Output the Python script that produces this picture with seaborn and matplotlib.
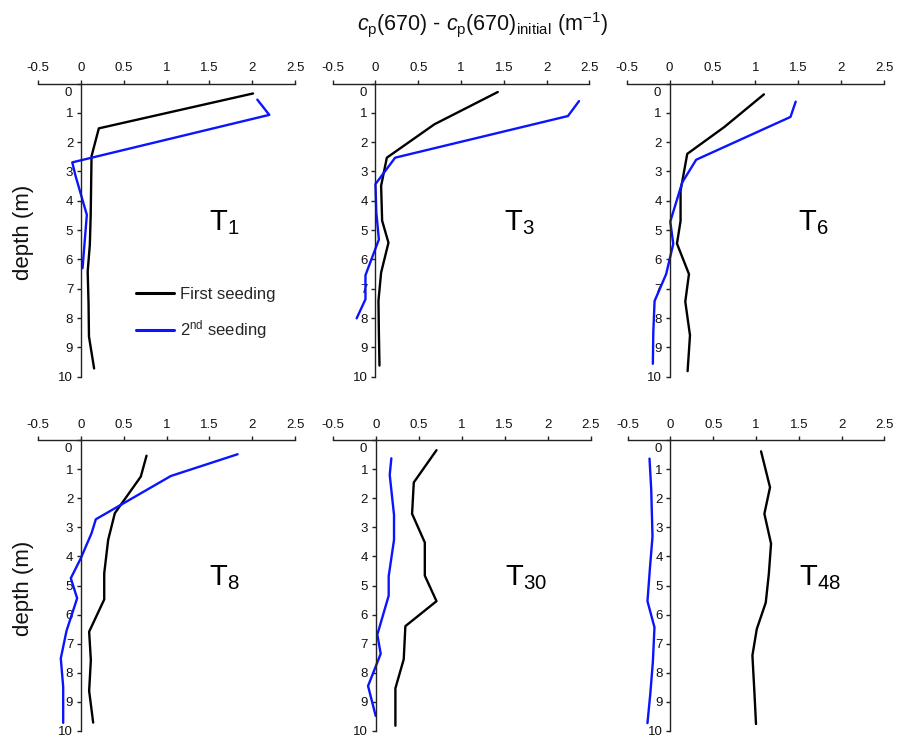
import numpy as np
import pandas as pd
import matplotlib
matplotlib.use("Agg")
import matplotlib.pyplot as plt
import seaborn as sns
from matplotlib.lines import Line2D

# ---------------- data ----------------
panels = ["T1", "T3", "T6", "T8", "T30", "T48"]
subs = ["1", "3", "6", "8", "30", "48"]

t1_first_depth = [0.34, 1.53, 2.48, 3.5, 4.5, 5.5, 6.41, 7.5, 8.63, 9.72]
t1_first_val = [2.01, 0.21, 0.125, 0.12, 0.115, 0.105, 0.08, 0.09, 0.095, 0.155]
t1_second_depth = [0.55, 1.07, 2.69, 3.17, 4.48, 6.3]
t1_second_val = [2.06, 2.2, -0.1, -0.06, 0.07, 0.02]

t3_first_depth = [0.29, 1.39, 2.53, 3.49, 4.68, 5.43, 6.45, 7.41, 8.5, 9.62]
t3_first_val = [1.43, 0.69, 0.133, 0.066, 0.078, 0.152, 0.066, 0.035, 0.04, 0.047]
t3_second_depth = [0.60, 1.11, 2.53, 3.43, 4.4, 5.32, 6.54, 7.36, 8.01]
t3_second_val = [2.38, 2.25, 0.23, 0.0, 0.01, 0.04, -0.117, -0.117, -0.22]

t6_first_depth = [0.37, 1.48, 2.40, 3.66, 4.69, 5.46, 6.50, 7.44, 8.59, 9.81]
t6_first_val = [1.10, 0.64, 0.206, 0.128, 0.128, 0.086, 0.226, 0.183, 0.238, 0.21]
t6_second_depth = [0.62, 1.14, 2.60, 3.37, 4.71, 5.47, 6.50, 7.42, 8.5, 9.56]
t6_second_val = [1.47, 1.41, 0.31, 0.148, 0.008, 0.043, -0.04, -0.175, -0.19, -0.195]

t8_first_depth = [0.53, 1.25, 2.51, 3.43, 4.58, 5.48, 6.59, 7.57, 8.63, 9.72]
t8_first_val = [0.767, 0.70, 0.397, 0.319, 0.273, 0.273, 0.097, 0.117, 0.097, 0.144]
t8_second_depth = [0.48, 1.23, 2.72, 3.20, 4.06, 4.75, 5.44, 6.56, 7.51, 8.49, 9.73]
t8_second_val = [1.83, 1.05, 0.175, 0.125, 0.0, -0.117, -0.043, -0.167, -0.234, -0.206, -0.206]

t30_first_depth = [0.34, 1.45, 2.53, 3.52, 4.66, 5.54, 6.40, 7.54, 8.54, 9.83]
t30_first_val = [0.707, 0.443, 0.423, 0.571, 0.571, 0.707, 0.345, 0.326, 0.229, 0.229]
t30_second_depth = [0.62, 1.19, 2.57, 3.43, 4.68, 5.35, 6.69, 7.35, 8.46, 9.49]
t30_second_val = [0.182, 0.163, 0.213, 0.213, 0.151, 0.151, 0.019, 0.058, -0.089, 0.0]

t48_first_depth = [0.38, 1.62, 2.53, 3.56, 4.6, 5.59, 6.50, 7.41, 8.6, 9.77]
t48_first_val = [1.059, 1.164, 1.098, 1.176, 1.15, 1.114, 1.009, 0.958, 0.98, 1.0]
t48_second_depth = [0.63, 1.7, 3.31, 4.4, 5.54, 6.44, 7.64, 8.7, 9.74]
t48_second_val = [-0.245, -0.225, -0.21, -0.24, -0.269, -0.187, -0.206, -0.235, -0.269]

x_ticks = [-0.5, 0, 0.5, 1, 1.5, 2, 2.5]
x_tick_labels = ["-0.5", "0", "0.5", "1", "1.5", "2", "2.5"]
y_ticks = list(range(0, 11))

series_first = "First seeding"
series_second = "2nd seeding"

raw = {
    "T1": (t1_first_depth, t1_first_val, t1_second_depth, t1_second_val),
    "T3": (t3_first_depth, t3_first_val, t3_second_depth, t3_second_val),
    "T6": (t6_first_depth, t6_first_val, t6_second_depth, t6_second_val),
    "T8": (t8_first_depth, t8_first_val, t8_second_depth, t8_second_val),
    "T30": (t30_first_depth, t30_first_val, t30_second_depth, t30_second_val),
    "T48": (t48_first_depth, t48_first_val, t48_second_depth, t48_second_val),
}

rows = []
for p in panels:
    fd, fv, sd, sv = raw[p]
    for d, v in zip(fd, fv):
        rows.append((p, series_first, d, v))
    for d, v in zip(sd, sv):
        rows.append((p, series_second, d, v))
df = pd.DataFrame(rows, columns=["panel", "seeding", "depth", "cp"])

# ---------------- style ----------------
sns.set_style("ticks")
plt.rcParams["font.family"] = ["Liberation Sans", "DejaVu Sans"]
plt.rcParams["mathtext.fontset"] = "custom"
plt.rcParams["mathtext.rm"] = "Liberation Sans"
plt.rcParams["mathtext.it"] = "Liberation Sans:italic"
plt.rcParams["mathtext.bf"] = "Liberation Sans:bold"

BLACK = "#000000"
BLUE = "#0a14ff"
palette = {series_first: BLACK, series_second: BLUE}

W, H = 897, 740
fig = plt.figure(figsize=(W / 100, H / 100), dpi=100)

# axes boxes in pixels: (left at x=-0.5, right at x=2.5, top at depth 0, bottom at depth 10)
boxes = [
    (38, 295, 83.5, 376.7),
    (332.7, 589.3, 83.5, 376.7),
    (626.7, 884, 83.5, 376.7),
    (38, 295, 440.3, 730.7),
    (332.7, 590.7, 440.3, 730.7),
    (627.7, 884.3, 440.3, 730.7),
]

axes = []
for i, p in enumerate(panels):
    l, r, t, b = boxes[i]
    ax = fig.add_axes([l / W, 1 - b / H, (r - l) / W, (b - t) / H])
    axes.append(ax)
    sub = df[df["panel"] == p]
    sns.lineplot(data=sub, x="cp", y="depth", hue="seeding", palette=palette,
                 sort=False, estimator=None, ax=ax, legend=False, linewidth=1.7)
    ax.set_xlim(-0.5, 2.5)
    ax.set_ylim(10, 0)
    ax.set_xlabel("")
    ax.set_ylabel("")
    ax.spines["right"].set_visible(False)
    ax.spines["bottom"].set_visible(False)
    ax.spines["left"].set_position(("data", 0))
    for s in ("top", "left"):
        ax.spines[s].set_color("#222222")
        ax.spines[s].set_linewidth(1.0)
    ax.xaxis.tick_top()
    ax.set_xticks(x_ticks)
    ax.set_xticklabels(x_tick_labels)
    ax.set_yticks(y_ticks)
    ax.set_yticklabels([""] + [str(v) for v in y_ticks[1:]])
    ax.tick_params(axis="x", direction="out", length=3, width=1, pad=4,
                   labelsize=9.5, color="#222222", labelcolor="#111111")
    ax.tick_params(axis="y", direction="out", length=3, width=1, pad=2.5,
                   labelsize=9.5, color="#222222", labelcolor="#111111")
    ax.annotate("0", xy=(0, 0), xycoords="data", xytext=(-6.5, -6.5),
                textcoords="offset points", ha="right", va="center",
                fontsize=9.5, color="#111111")
    ax.patch.set_alpha(0)
    ax.text(1.5, 5.0, "T$_{\\mathregular{" + subs[i] + "}}$", fontsize=21,
            ha="left", va="baseline", color="black")

# legend in first panel
handles = [Line2D([0], [0], color=BLACK, lw=2.2),
           Line2D([0], [0], color=BLUE, lw=2.2)]
labels = ["First seeding", "2$^{\\mathregular{nd}}$ seeding"]
axes[0].legend(handles, labels, loc="center left",
               bbox_to_anchor=(136 / W, 1 - 314 / H), bbox_transform=fig.transFigure,
               frameon=False, fontsize=12, handlelength=2.3, handletextpad=0.35,
               labelspacing=1.0, borderpad=0, borderaxespad=0)

# title and y labels
fig.text(482 / W, 1 - 25 / H,
         "$\\mathit{c}_{\\mathregular{p}}$(670) - $\\mathit{c}_{\\mathregular{p}}$(670)$_{\\mathregular{initial}}$ (m$^{\\mathregular{-1}}$)",
         ha="center", va="center", fontsize=15.5, color="#111111")
for yc in (232, 588):
    fig.text(24 / W, 1 - yc / H, "depth (m)", rotation=90, ha="center", va="center",
             fontsize=16, color="#111111")

fig.savefig("out.png", dpi=100)
